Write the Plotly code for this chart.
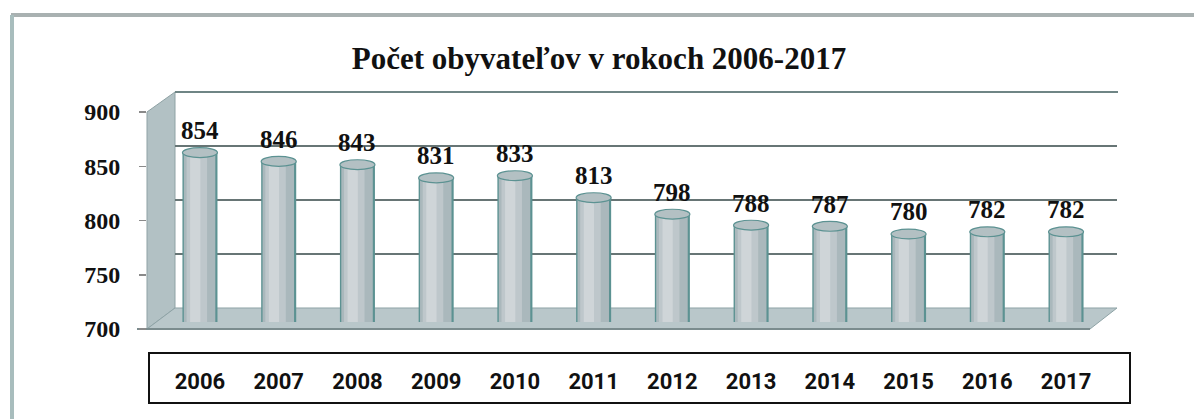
import plotly.graph_objects as go

# ---- data ----
years = ["2006", "2007", "2008", "2009", "2010", "2011",
         "2012", "2013", "2014", "2015", "2016", "2017"]
population = [854, 846, 843, 831, 833, 813, 798, 788, 787, 780, 782, 782]
y_ticks = [700, 750, 800, 850, 900]
title_text = "Počet obyvateľov v rokoch 2006-2017"

W, H = 1194, 419


def fx(x):
    return x / W


def fy(y):
    return 1 - y / H


idx = list(range(len(years)))
fig = go.Figure()

# invisible anchors for back-wall grid and front tick axis
fig.add_trace(go.Scatter(x=[0.5], y=[800], mode="markers", marker=dict(opacity=0),
                         hoverinfo="skip", showlegend=False, xaxis="x", yaxis="y"))
fig.add_trace(go.Scatter(x=[0.5], y=[800], mode="markers", marker=dict(opacity=0),
                         hoverinfo="skip", showlegend=False, xaxis="x2", yaxis="y2"))

# cylinder bars built from overlaid bar layers (shading)
bar_layers = [
    (0.445, -0.2225, "#5c9292"),
    (0.40, -0.205, "#aab8bc"),
    (0.26, -0.17, "#bec7cb"),
    (0.13, -0.125, "#cfd5d8"),
]
for w, off, col in bar_layers:
    fig.add_trace(go.Bar(x=idx, y=population, base=0, width=w, offset=off,
                         marker=dict(color=col, line=dict(width=0)),
                         hoverinfo="skip", showlegend=False,
                         xaxis="x3", yaxis="y3"))

shapes = []
# outer frame (top and left edges)
shapes.append(dict(type="line", xref="paper", yref="paper", x0=fx(11), x1=1.0,
                   y0=fy(15), y1=fy(15), line=dict(color="#a9b1b1", width=4)))
shapes.append(dict(type="line", xref="paper", yref="paper", x0=fx(12), x1=fx(12),
                   y0=fy(15), y1=0, line=dict(color="#a8bdbd", width=4)))


def path(pts):
    return "M " + " L ".join(f"{fx(a):.5f},{fy(b):.5f}" for a, b in pts) + " Z"


# left side wall
shapes.append(dict(type="path", xref="paper", yref="paper", layer="below",
                   path=path([(147, 112), (175, 92), (175, 308), (147, 329)]),
                   fillcolor="#b2c1c4", line=dict(color="#8fa2a5", width=1)))
# floor
shapes.append(dict(type="path", xref="paper", yref="paper", layer="below",
                   path=path([(147, 329), (175, 308), (1117, 308), (1090, 329)]),
                   fillcolor="#b9c7ca", line=dict(color="#8ea3a6", width=1)))
# front base line
shapes.append(dict(type="line", xref="paper", yref="paper", layer="below",
                   x0=fx(137), x1=fx(1090), y0=fy(329), y1=fy(329),
                   line=dict(color="#7b8c8e", width=2)))
# back wall top edge
shapes.append(dict(type="line", xref="paper", yref="paper", layer="below",
                   x0=fx(175), x1=fx(1118), y0=fy(92), y1=fy(92),
                   line=dict(color="#6f8585", width=2)))
# category label box
shapes.append(dict(type="rect", xref="paper", yref="paper",
                   x0=fx(149), x1=fx(1130), y0=fy(403), y1=fy(353),
                   line=dict(color="#111111", width=2)))

# cylinder tops
for i, v in zip(idx, population):
    shapes.append(dict(type="circle", xref="x3", yref="y3",
                       x0=i - 0.2225, x1=i + 0.2225, y0=v - 4.5, y1=v + 4.5,
                       fillcolor="#b3c0c3", line=dict(color="#5c9292", width=1.2)))

annotations = []
for i, v in zip(idx, population):
    annotations.append(dict(x=i, y=v, xref="x3", yref="y3", text=f"<b>{v}</b>",
                            showarrow=False, yshift=22, yanchor="middle",
                            font=dict(family="Liberation Serif", size=25, color="#111111")))

fig.update_layout(
    width=W, height=H,
    autosize=False,
    margin=dict(l=0, r=0, t=0, b=0, pad=0, autoexpand=False),
    paper_bgcolor="white",
    plot_bgcolor="rgba(0,0,0,0)",
    showlegend=False,
    barmode="overlay",
    title=dict(text=f"<b>{title_text}</b>", x=fx(599), y=fy(58),
               xanchor="center", yanchor="middle", xref="paper", yref="paper",
               font=dict(family="Liberation Serif", size=31, color="#111111")),
    xaxis=dict(domain=[fx(175), fx(1117)], range=[0, 1], visible=False, anchor="y"),
    yaxis=dict(domain=[fy(308), fy(92)], range=[700, 900], tickvals=[750, 800, 850],
               showgrid=True, gridcolor="#677575", gridwidth=2,
               showticklabels=False, ticks="", zeroline=False, showline=False,
               anchor="x"),
    xaxis2=dict(domain=[fx(147), fx(1090)], range=[0, 1], visible=False, anchor="y2"),
    yaxis2=dict(domain=[fy(329), fy(112)], range=[700, 900], tickvals=y_ticks,
                ticks="outside", ticklen=7, tickwidth=1.5, tickcolor="#8a8a8a",
                showgrid=False, zeroline=False, showline=False, anchor="x2",
                ticklabelstandoff=14,
                tickfont=dict(family="Liberation Serif", size=24, color="#111111",
                              weight="bold")),
    xaxis3=dict(domain=[fx(160.6), fx(1105.4)], range=[-0.5, 11.5],
                tickvals=idx, ticktext=years, ticks="", showgrid=False,
                zeroline=False, showline=False, anchor="y3",
                ticklabelstandoff=44,
                tickfont=dict(family="Roboto", size=22, color="#111111", weight="bold")),
    yaxis3=dict(domain=[fy(322), fy(102)], range=[700, 900], visible=False,
                anchor="x3"),
    shapes=shapes,
    annotations=annotations,
)

fig.write_html("out.html",
               config={"displayModeBar": False, "staticPlot": True},
               post_script="document.body.style.margin='0';document.body.style.overflow='hidden';")
